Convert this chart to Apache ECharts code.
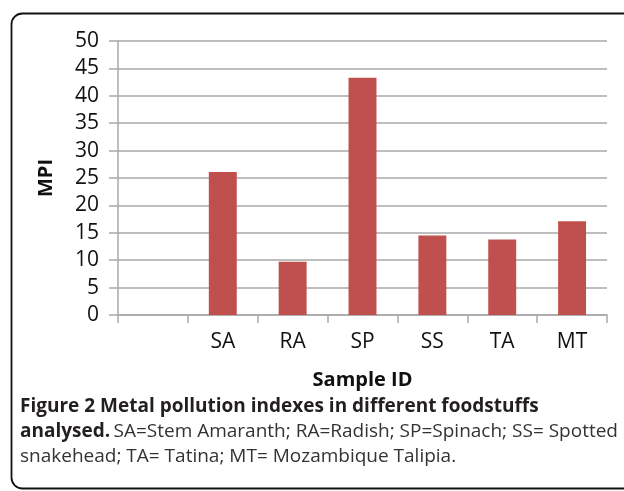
<!DOCTYPE html>
<html>
<head>
<meta charset="utf-8">
<style>
html,body{margin:0;padding:0;background:#fff;}
#chart{width:624px;height:491px;}
</style>
<script src="https://cdn.jsdelivr.net/npm/echarts@6/dist/echarts.min.js"></script>
</head>
<body>
<div id="chart"></div>
<script>
var categories = ['', 'SA', 'RA', 'SP', 'SS', 'TA', 'MT'];
var mpiValues = ['-', 26.1, 9.7, 43.3, 14.5, 13.8, 17.1];
var yTicks = {min: 0, max: 50, interval: 5};

var chart = echarts.init(document.getElementById('chart'), null, {renderer: 'canvas'});
var gridColor = '#a9a9a9';
chart.setOption({
  animation: false,
  backgroundColor: '#ffffff',
  textStyle: {fontFamily: 'Open Sans'},
  grid: {left: 118, right: 17, top: 41, bottom: 176, containLabel: false},
  xAxis: {
    type: 'category',
    data: categories,
    name: 'Sample ID',
    nameLocation: 'middle',
    nameGap: 55,
    nameTextStyle: {fontSize: 20, fontWeight: 'bold', color: '#111', fontFamily: 'Open Sans'},
    axisLine: {show: true, lineStyle: {color: gridColor, width: 1.5}},
    axisTick: {show: true, length: 8, interval: 0, lineStyle: {color: gridColor, width: 1.5}},
    axisLabel: {fontSize: 21, color: '#111', margin: 17, interval: 0, fontFamily: 'Open Sans'}
  },
  yAxis: {
    type: 'value',
    min: yTicks.min,
    max: yTicks.max,
    interval: yTicks.interval,
    name: 'MPI',
    nameLocation: 'middle',
    nameGap: 62,
    nameTextStyle: {fontSize: 20, fontWeight: 'bold', color: '#111', fontFamily: 'Open Sans'},
    axisLine: {show: true, lineStyle: {color: gridColor, width: 1.5}},
    axisTick: {show: true, length: 9, lineStyle: {color: gridColor, width: 1.5}},
    axisLabel: {fontSize: 21, color: '#111', margin: 19, fontFamily: 'Open Sans'},
    splitLine: {show: true, lineStyle: {color: gridColor, width: 1.5}}
  },
  series: [{
    type: 'bar',
    data: mpiValues,
    barWidth: '40%',
    itemStyle: {color: '#c0504d'}
  }],
  graphic: [
    {
      type: 'rect',
      shape: {x: 11.5, y: 13.5, width: 700, height: 475, r: 11},
      style: {fill: 'none', stroke: '#111111', lineWidth: 1.8},
      silent: true
    },
    {
      type: 'text',
      left: 20,
      top: 397,
      style: {
        text: '{b|Figure 2 Metal pollution indexes in different foodstuffs}\n{b|analysed.} {r|SA=Stem Amaranth; RA=Radish; SP=Spinach; SS= Spotted}\n{r|snakehead; TA= Tatina; MT= Mozambique Talipia.}',
        rich: {
          b: {fontFamily: 'Open Sans', fontSize: 19, fontWeight: 'bold', fill: '#231f20', lineHeight: 25},
          r: {fontFamily: 'Open Sans', fontSize: 19, fill: '#333333', lineHeight: 25}
        }
      }
    }
  ]
});
</script>
</body>
</html>
